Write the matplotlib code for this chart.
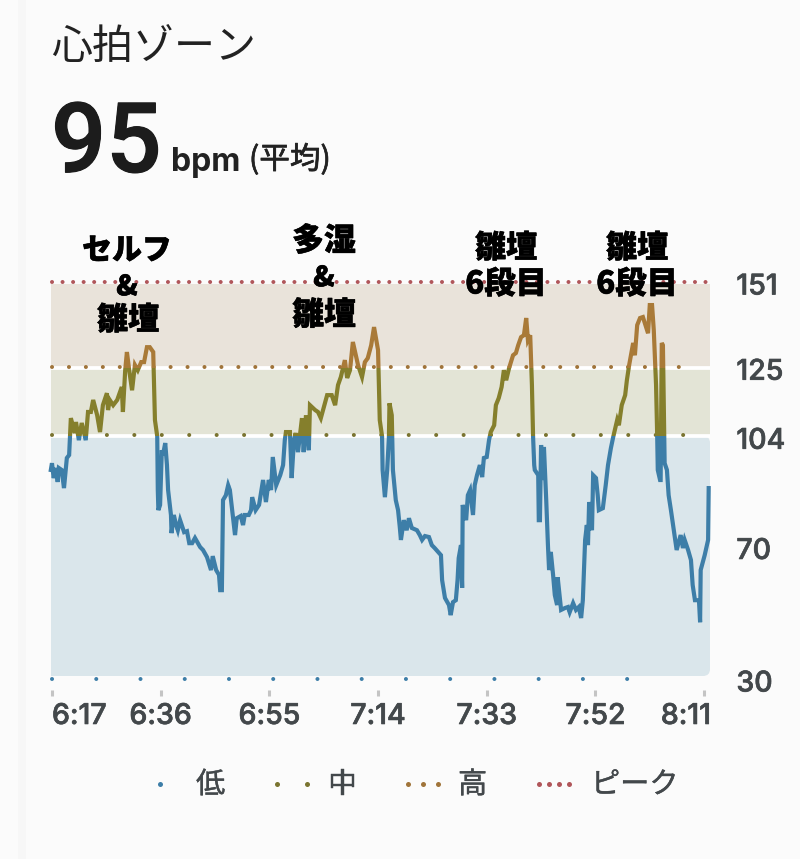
import matplotlib
matplotlib.use("Agg")
import matplotlib.pyplot as plt
import matplotlib.patheffects as pe
from matplotlib.patches import Rectangle, FancyBboxPatch
from matplotlib.transforms import ScaledTranslation, IdentityTransform

JP = ["Noto Sans CJK JP", "DejaVu Sans"]
NUM = ["Inter", "Noto Sans CJK JP"]

# minutes since 6:17
minutes = [-0.2, 0.0, 0.3, 0.7, 1.0, 1.2, 1.7, 2.1, 2.6, 3.0, 3.3, 4.0, 4.2, 4.7, 5.2, 5.9, 6.3, 6.8, 7.2, 7.9,
           8.4, 8.9, 9.6, 9.8, 10.1, 10.7, 11.4, 12.2, 12.4, 12.8, 13.1, 13.5, 14.0, 14.5, 15.0, 15.6, 16.1, 16.6, 17.1, 17.7,
           18.0, 18.4, 18.5, 18.6, 18.9, 19.2, 19.4, 19.8, 20.1, 20.3, 20.8, 20.9, 21.3, 21.7, 22.0, 22.4, 23.1, 23.6, 24.0, 24.5,
           25.0, 25.9, 26.4, 27.1, 27.8, 28.1, 28.7, 29.2, 29.4, 29.7, 29.9, 30.4, 30.8, 31.1, 31.5, 32.0, 32.3, 33.0, 33.4, 33.7,
           34.4, 34.8, 35.0, 35.6, 36.2, 36.9, 37.4, 37.9, 38.3, 38.6, 39.2, 39.9, 40.4, 40.7, 40.9, 41.6, 41.9, 42.3, 42.6, 43.0,
           43.7, 44.0, 44.4, 44.9, 45.1, 46.0, 46.5, 47.0, 47.7, 48.1, 48.9, 49.5, 50.0, 50.5, 51.2, 51.6, 52.1, 52.6, 53.5, 54.2,
           54.7, 55.2, 55.8, 56.3, 57.0, 57.3, 57.7, 57.8, 58.2, 58.6, 58.9, 59.0, 59.4, 59.6, 60.1, 60.5, 60.8, 61.0, 61.5, 62.0,
           62.4, 62.9, 63.8, 64.3, 64.7, 65.2, 65.9, 66.4, 66.9, 67.5, 68.0, 68.2, 68.7, 69.4, 69.7, 70.1, 70.6, 70.9, 71.1, 71.5,
           71.7, 71.8, 72.4, 72.7, 73.1, 73.6, 73.9, 74.3, 74.8, 75.2, 75.5, 76.0, 76.4, 76.7, 77.3, 77.6, 78.1, 78.6, 79.0, 79.4,
           79.9, 80.6, 81.1, 81.5, 82.0, 82.5, 82.9, 83.2, 83.6, 83.9, 84.1, 84.3, 84.4, 85.0, 85.1, 85.3, 85.5, 85.8, 86.0, 86.4,
           86.7, 86.9, 87.2, 87.6, 87.9, 88.3, 88.4, 89.0, 89.7, 90.2, 90.5, 91.1, 91.6, 92.1, 92.5, 92.8, 93.2, 93.5, 93.7, 93.9,
           94.4, 94.6, 95.1, 95.4, 95.6, 96.3, 96.8, 97.2, 97.7, 98.1, 98.8, 99.1, 99.6, 100.2, 100.5, 100.9, 101.6, 101.9, 102.3, 102.8,
           103.3, 104.2, 104.5, 104.9, 105.2, 105.6, 105.8, 105.9, 106.3, 106.4, 106.6, 106.8, 107.0, 107.1, 107.5, 107.8, 108.2, 108.7, 109.2, 109.9,
           110.3, 110.6, 111.2, 111.7, 112.0, 112.4, 113.1, 113.3, 113.4, 114.1, 114.7, 114.8]
bpm = [93.6, 95.7, 91.1, 94.2, 89.9, 94.2, 93.6, 88.0, 97.3, 98.2, 109.6, 105.0, 108.4, 102.8, 108.1, 102.8, 111.5, 111.5, 115.2, 110.5,
       105.3, 113.6, 117.3, 112.1, 115.2, 113.6, 115.2, 119.2, 111.5, 124.4, 130.0, 124.4, 118.2, 126.0, 124.4, 126.9, 126.9, 131.5, 131.5, 130.0,
       109.0, 104.0, 87.4, 81.2, 82.8, 99.7, 98.2, 101.9, 95.1, 87.4, 79.7, 74.1, 79.7, 76.6, 75.0, 78.1, 74.4, 74.7, 71.0, 71.0,
       72.6, 69.8, 68.9, 66.7, 62.7, 67.0, 62.7, 61.2, 56.5, 56.5, 84.3, 85.8, 88.9, 87.4, 81.2, 73.5, 78.7, 79.4, 76.6, 79.7,
       79.7, 81.2, 85.2, 81.2, 82.8, 90.5, 83.7, 90.5, 87.4, 97.6, 88.9, 92.0, 95.1, 102.8, 105.3, 105.3, 91.1, 102.8, 105.0, 99.1,
       109.6, 99.1, 110.5, 99.7, 113.6, 112.1, 111.5, 109.6, 114.2, 116.7, 116.7, 113.6, 119.8, 122.3, 127.5, 122.0, 124.4, 133.1, 126.0, 122.3,
       126.9, 128.1, 132.1, 137.7, 130.6, 109.0, 104.0, 93.6, 85.2, 93.6, 103.7, 114.2, 110.5, 93.6, 84.3, 81.2, 76.0, 72.0, 78.1, 75.0,
       78.7, 75.7, 75.0, 73.5, 72.0, 73.2, 72.9, 70.4, 69.5, 68.3, 67.3, 59.6, 54.1, 51.9, 48.8, 52.8, 53.4, 59.6, 66.4, 70.4,
       57.2, 82.8, 78.1, 85.8, 87.4, 79.7, 88.9, 92.0, 95.1, 91.4, 97.3, 97.6, 102.8, 105.3, 107.4, 113.6, 115.8, 119.2, 124.4, 121.3,
       125.0, 129.0, 129.7, 132.1, 134.6, 135.2, 140.5, 133.7, 135.2, 119.8, 104.0, 95.1, 93.6, 92.0, 78.1, 78.1, 101.3, 90.5, 100.7, 84.3,
       70.4, 62.7, 68.3, 61.2, 55.0, 51.9, 60.5, 50.4, 51.0, 51.3, 49.7, 52.5, 50.4, 51.3, 47.9, 53.4, 72.0, 76.6, 70.4, 83.7,
       75.0, 92.0, 91.1, 85.8, 81.2, 81.8, 88.9, 95.1, 100.3, 103.7, 109.0, 107.4, 113.6, 116.7, 121.3, 126.0, 132.8, 129.0, 138.3, 140.5,
       140.8, 135.8, 144.5, 144.5, 136.8, 119.8, 104.0, 93.6, 90.5, 90.5, 132.8, 132.1, 109.0, 95.7, 93.6, 85.8, 81.2, 75.0, 68.9, 73.5,
       69.5, 72.0, 68.9, 65.8, 58.1, 53.4, 53.4, 46.6, 62.7, 67.3, 72.0, 88.0]

tick_minutes = [0, 19, 38, 57, 76, 95, 114]
tick_labels = ["6:17", "6:36", "6:55", "7:14", "7:33", "7:52", "8:11"]
zone_ticks = [30, 70, 104, 125, 151]
zone_edges = [30, 104, 125, 151]
zone_names = ["低", "中", "高", "ピーク"]
zone_band = ["#dae6eb", "#e3e4d6", "#e9e3da"]
zone_line = ["#3d7ea8", "#857f2c", "#a97a38"]
dot_colors = ["#3d7ea8", "#7a7430", "#a0743a", "#b0565a"]

W, H = 800, 859
BG = "#fbfbfb"
fig = plt.figure(figsize=(W / 100, H / 100), dpi=100, facecolor=BG)
fig.patches.append(Rectangle((18 / W, 0), 8 / W, 1, transform=fig.transFigure, color="#f7f7f7", lw=0))

ax = fig.add_axes([51 / W, (H - 696) / H, 659 / W, 420 / H], facecolor="none")
ax.set_xlim(-0.17, 115.03)
ax.set_ylim(23.83, 153.47)
for s in ax.spines.values():
    s.set_visible(False)

# zones
for i in range(3):
    band = ax.axhspan(zone_edges[i], zone_edges[i + 1], color=zone_band[i], lw=0, zorder=1)
    if i == 0:
        # rounded bottom right corner of the low zone
        corner = FancyBboxPatch((-40, H - 676), 750, 240, boxstyle="round,pad=0,rounding_size=7",
                                transform=IdentityTransform())
        band.set_clip_path(corner)
ax.axhline(104, color="white", lw=2.7, zorder=2)
ax.axhline(125, color="white", lw=2.7, zorder=2)

# dotted limits, one per zone
dot_y = [29.2, 104.3, 125.3, 151.6]
dot_end = [108.2, 110.7, 112.4, 114.8]
dot_gap = [44.2, 27.4, 16.9, 10.5]
for i in range(4):
    lw = 2.9
    ax.plot([0, dot_end[i]], [dot_y[i], dot_y[i]], color=dot_colors[i], lw=lw, clip_on=False, zorder=3,
            linestyle=(0, (0.01, dot_gap[i] * 0.72 / lw)), dash_capstyle="round")

# same series three times, each clipped to its zone
limits = [(0, 104), (104, 125), (125, 200)]
for i in range(3):
    line, = ax.plot(minutes, bpm, color=zone_line[i], lw=3.0, zorder=4, solid_joinstyle="miter")
    lo, hi = limits[i]
    line.set_clip_path(Rectangle((-1, lo), 120, hi - lo, transform=ax.transData))

heavier = [pe.withStroke(linewidth=0.5, foreground="#43484b")]
ax.set_xticks(tick_minutes)
ax.set_xticklabels(tick_labels, family=NUM, weight="medium", fontsize=20.5, color="#43484b", path_effects=heavier)
ax.tick_params(axis="x", direction="in", length=4.5, width=2.2, color="#c4c4c4", pad=5)
labels = ax.get_xticklabels()
labels[0].set_ha("left")
labels[-1].set_ha("right")
labels[-1].set_transform(labels[-1].get_transform() + ScaledTranslation(5 / 72, 0, fig.dpi_scale_trans))

ax.yaxis.tick_right()
ax.set_yticks(zone_ticks)
ax.set_yticklabels([str(v) for v in zone_ticks], family=NUM, weight="medium", fontsize=20.5, color="#43484b",
                   path_effects=heavier)
ax.tick_params(axis="y", length=0, pad=19)
# the labels sit a little under their limits
label_drop = [5, 2, 2, 1, 0]
for lab, d in zip(ax.get_yticklabels(), label_drop):
    lab.set_transform(lab.get_transform() + ScaledTranslation(0, -d * 0.72 / 72, fig.dpi_scale_trans))

# page coordinates for everything else
page = fig.add_axes([0, 0, 1, 1], facecolor="none")
page.set_xlim(0, W)
page.set_ylim(H, 0)
page.axis("off")
page.set_zorder(5)

page.text(51, 48, "心拍ゾーン", family=JP, fontsize=29.5, color="#222222", va="center", ha="left")
page.text(51, 172, "95", family=["Roboto"], weight="medium", fontsize=70, color="#1c1c1c", va="baseline", ha="left",
          path_effects=[pe.withStroke(linewidth=0.8, foreground="#1c1c1c")])
page.text(171, 171, "bpm", family=NUM, weight="bold", fontsize=23, color="#222222", va="baseline", ha="left")
page.text(249, 160, "(平均)", family=JP, fontsize=22, color="#222222", va="center", ha="left",
          path_effects=[pe.withStroke(linewidth=0.5, foreground="#222222")])

# hand written notes on top of the chart
notes = [(127, 250, "セルフ", 21.5), (127, 287, "&", 20), (128, 320, "雛壇", 22.5),
         (324, 241, "多湿", 23), (324, 278, "&", 20), (324, 315, "雛壇", 23),
         (506, 248, "雛壇", 22.5), (506, 284, "6段目", 22.5),
         (637, 248, "雛壇", 22.5), (637, 284, "6段目", 22.5)]
for nx, ny, s, size in notes:
    page.text(nx, ny, s, family=JP, weight="black", fontsize=size, color="black", ha="center", va="center",
              path_effects=[pe.withStroke(linewidth=0.4, foreground="black")])

# legend
legend_dots = [[160], [277, 307], [408, 423, 438], [539, 549, 559, 569]]
legend_text = [196, 328, 458, 591]
for i in range(4):
    page.plot(legend_dots[i], [784] * len(legend_dots[i]), "o", ms=3.6, mew=0, color=dot_colors[i])
    page.text(legend_text[i], 785, zone_names[i], family=JP, fontsize=21, color="#43484b", va="center", ha="left",
              path_effects=[pe.withStroke(linewidth=0.3, foreground="#43484b")])

fig.savefig("out.png", dpi=100, facecolor=BG)
